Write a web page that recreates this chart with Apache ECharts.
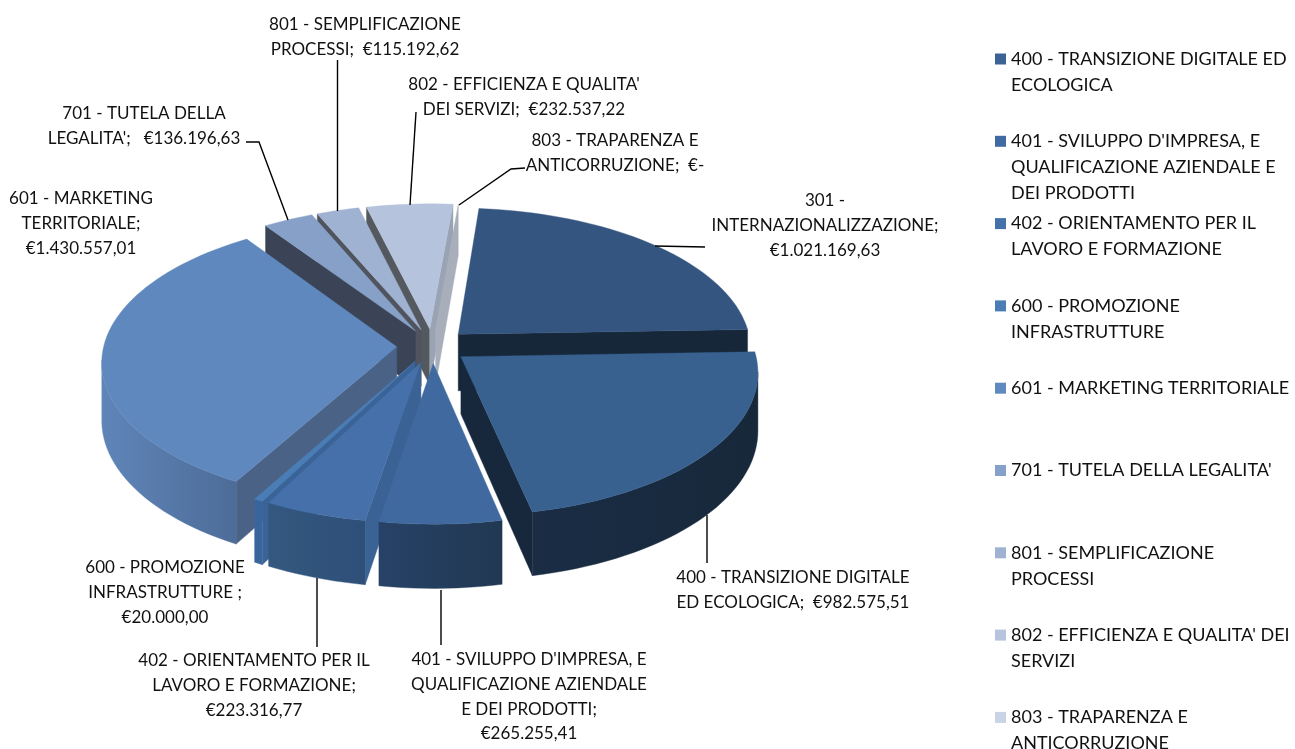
<!DOCTYPE html>
<html>
<head>
<meta charset="utf-8">
<style>
  html, body { margin: 0; padding: 0; background: #fff; overflow: hidden; }
  #chart { width: 1295px; height: 749px; }
</style>
<script src="https://cdn.jsdelivr.net/npm/echarts@6/dist/echarts.min.js"></script>
</head>
<body>
<div id="chart"></div>
<script>
const categories = [
  "301 - INTERNAZIONALIZZAZIONE",
  "400 - TRANSIZIONE DIGITALE ED ECOLOGICA",
  "401 - SVILUPPO D'IMPRESA, E QUALIFICAZIONE AZIENDALE E DEI PRODOTTI",
  "402 - ORIENTAMENTO PER IL LAVORO E FORMAZIONE",
  "600 - PROMOZIONE INFRASTRUTTURE",
  "601 - MARKETING TERRITORIALE",
  "701 - TUTELA DELLA LEGALITA'",
  "801 - SEMPLIFICAZIONE PROCESSI",
  "802 - EFFICIENZA E QUALITA' DEI SERVIZI",
  "803 - TRAPARENZA E ANTICORRUZIONE"
];
const values = [
  1021169.63, 982575.51, 265255.41, 223316.77, 20000.0,
  1430557.01, 136196.63, 115192.62, 232537.22, 0
];
const labelLines = [
  ["301 -", "INTERNAZIONALIZZAZIONE;", "€1.021.169,63"],
  ["400 - TRANSIZIONE DIGITALE", "ED ECOLOGICA;  €982.575,51"],
  ["401 - SVILUPPO D'IMPRESA, E", "QUALIFICAZIONE AZIENDALE", "E DEI PRODOTTI;", "€265.255,41"],
  ["402 - ORIENTAMENTO PER IL", "LAVORO E FORMAZIONE;", "€223.316,77"],
  ["600 - PROMOZIONE", "INFRASTRUTTURE ;", "€20.000,00"],
  ["601 - MARKETING", "TERRITORIALE;", "€1.430.557,01"],
  ["701 - TUTELA DELLA", "LEGALITA';   €136.196,63"],
  ["801 - SEMPLIFICAZIONE", "PROCESSI;  €115.192,62"],
  ["802 - EFFICIENZA E QUALITA'", "DEI SERVIZI;  €232.537,22"],
  ["803 - TRAPARENZA E", "ANTICORRUZIONE;  €-"]
];
const legendLines = [
  ["400 - TRANSIZIONE DIGITALE ED", "ECOLOGICA"],
  ["401 - SVILUPPO D'IMPRESA, E", "QUALIFICAZIONE AZIENDALE E", "DEI PRODOTTI"],
  ["402 - ORIENTAMENTO PER IL", "LAVORO E FORMAZIONE"],
  ["600 - PROMOZIONE", "INFRASTRUTTURE"],
  ["601 - MARKETING TERRITORIALE"],
  ["701 - TUTELA DELLA LEGALITA'"],
  ["801 - SEMPLIFICAZIONE", "PROCESSI"],
  ["802 - EFFICIENZA E QUALITA' DEI", "SERVIZI"],
  ["803 - TRAPARENZA E", "ANTICORRUZIONE"]
];

// colori
const topColors = ["#33557f", "#38618f", "#40699f", "#4570a9", "#4a7db6", "#5f88be", "#86a0c8", "#9fb2d2", "#b5c3dc", "#c9d1e0"];
const startWallColors = ["#16273a", "#17283c", "#3a6295", "#3a6295", "#3a6398", "#4a6286", "#3a4456", "#50545f", "#54585f", "#a8afbb"];
const endWallColors = ["#16273a", "#17283c", "#284468", "#2e5078", "#3a6398", "#4a6286", "#3a4456", "#7f8ca3", "#99a3b4", "#a8afbb"];
const rimColors = [
  ["#16273a", "#16273a"], ["#1a2d45", "#17283a"], ["#274267", "#213852"], ["#34587f", "#2e4f78"],
  ["#3a659c", "#3a659c"], ["#5f85b8", "#4d6c98"], ["#3a4456", "#3a4456"], ["#50545f", "#50545f"],
  ["#54585f", "#54585f"], ["#a8afbb", "#a8afbb"]
];
const legendColors = ["#3b6396", "#3f6ba2", "#4571ab", "#4a7db5", "#608abf", "#85a0cb", "#9fb2d4", "#b6c4de", "#c9d3e6"];

// posizione etichette: centro x, centro y prima riga
const labelPos = [[825, 201], [793, 578], [529, 660], [254, 661], [165, 568], [81, 199], [144, 114], [365, 25], [524, 85], [615, 141]];
const leaderLines = [
  [[655, 246], [705, 247]],
  [[707, 515], [707, 563]],
  [[441, 590], [441, 645]],
  [[317, 578], [317, 647]],
  null,
  null,
  [[246, 142], [259, 142], [288, 220]],
  [[337.5, 60], [337.5, 211]],
  [[416, 112], [410, 205]],
  [[525, 168], [511, 169], [459, 205]]
];

const FONT_FAMILY = "Lato";
const cx = 432.5, cy = 346, Rx = 293, Ry = 141, H = 57;
const PERSP = 0.1, EXPLODE = 0.122, START_ANGLE = 5;

const total = values.reduce((a, b) => a + b, 0);
const angles = [];
let acc = START_ANGLE;
values.forEach((v) => {
  const sweep = (v / total) * 360;
  angles.push([acc, acc + sweep]);
  acc += sweep;
});

function project(X, Y, Z) {
  const s = 1 / (1 + PERSP * Y);
  return [cx + Rx * X * s, cy - Ry * Y * s + H * Z * s];
}

function signedArea(pts) {
  let sum = 0;
  pts.forEach((p, i) => {
    const q = pts[(i + 1) % pts.length];
    sum += p[0] * q[1] - q[0] * p[1];
  });
  return sum;
}

function poly(points, fill) {
  return {
    type: "polygon",
    shape: { points: points },
    style: { fill: fill, stroke: fill, lineWidth: 0.4 }
  };
}

function renderSlice(idx, value) {
  const a0 = angles[idx][0];
  const a1 = a0 + (value / total) * 360;
  const mid = (((a0 + a1) / 2) * Math.PI) / 180;
  const ox = EXPLODE * Math.sin(mid);
  const oy = EXPLODE * Math.cos(mid);
  const at = (deg, z) => {
    const t = (deg * Math.PI) / 180;
    return project(ox + Math.sin(t), oy + Math.cos(t), z);
  };
  const apexTop = project(ox, oy, 0);
  const apexBottom = project(ox, oy, 1);
  const children = [];

  const startWall = [apexTop, at(a0, 0), at(a0, 1), apexBottom];
  const endWall = [apexTop, at(a1, 0), at(a1, 1), apexBottom];
  if (signedArea(startWall) < 0) children.push(poly(startWall, startWallColors[idx]));
  if (signedArea(endWall) > 0) children.push(poly(endWall, endWallColors[idx]));

  // parete esterna: solo la parte verso l'osservatore
  const steps = Math.max(1, Math.ceil((a1 - a0) / 2));
  const rimTop = [];
  const rimBottom = [];
  for (let i = 0; i < steps; i++) {
    const d0 = a0 + ((a1 - a0) * i) / steps;
    const d1 = a0 + ((a1 - a0) * (i + 1)) / steps;
    const seg = [at(d0, 0), at(d1, 0), at(d1, 1), at(d0, 1)];
    if (signedArea(seg) < 0) {
      if (!rimTop.length) {
        rimTop.push(seg[0]);
        rimBottom.push(seg[3]);
      }
      rimTop.push(seg[1]);
      rimBottom.push(seg[2]);
    }
  }
  if (rimTop.length) {
    children.push(poly(rimTop.concat(rimBottom.reverse()), {
      type: "linear", x: 0, y: 0, x2: 1, y2: 0,
      colorStops: [
        { offset: 0, color: rimColors[idx][0] },
        { offset: 1, color: rimColors[idx][1] }
      ]
    }));
  }

  if (a1 > a0) {
    const face = [apexTop];
    for (let i = 0; i <= steps; i++) face.push(at(a0 + ((a1 - a0) * i) / steps, 0));
    children.push(poly(face, topColors[idx]));
  }
  return { type: "group", children: children };
}

// ordine di disegno: dal fondo verso l'osservatore
const depthRank = values
  .map((v, i) => i)
  .sort((a, b) => {
    const ma = ((angles[a][0] + angles[a][1]) * Math.PI) / 360;
    const mb = ((angles[b][0] + angles[b][1]) * Math.PI) / 360;
    return Math.cos(mb) - Math.cos(ma);
  });

const series = categories.map((name, i) => ({
  type: "custom",
  name: name,
  coordinateSystem: "none",
  z: 2 + depthRank.indexOf(i),
  silent: true,
  itemStyle: { color: i > 0 ? legendColors[i - 1] : topColors[0] },
  data: [[values[i]]],
  renderItem: (params, api) => renderSlice(i, api.value(0))
}));

// la legenda centra il simbolo sul testo: righe vuote sopra per tenerlo sulla prima riga
const LEGEND_LINE = 26;
const legends = legendLines.map((lines, i) => {
  const extra = lines.length - 1;
  return {
    data: [categories[i + 1]],
    orient: "vertical",
    left: 995,
    top: 59 + 82.3 * i - 13 - LEGEND_LINE * extra,
    padding: 0,
    icon: "rect",
    itemWidth: 11,
    itemHeight: 11,
    itemGap: 0,
    selectedMode: false,
    formatter: () => "\n".repeat(extra) + lines.join("\n"),
    textStyle: {
      fontFamily: FONT_FAMILY,
      fontSize: 18,
      lineHeight: LEGEND_LINE,
      color: "#111"
    }
  };
});

const graphics = [];
labelLines.forEach((lines, i) => {
  graphics.push({
    type: "text",
    z: 50,
    style: {
      text: lines.join("\n"),
      x: labelPos[i][0],
      y: labelPos[i][1] - 12.3,
      align: "center",
      verticalAlign: "top",
      fontFamily: FONT_FAMILY,
      fontSize: 17,
      lineHeight: 24.6,
      fill: "#111"
    }
  });
  if (leaderLines[i]) {
    graphics.push({
      type: "polyline",
      z: 50,
      shape: { points: leaderLines[i] },
      style: { stroke: "#000", lineWidth: 1.4, fill: "none" }
    });
  }
});

const chart = echarts.init(document.getElementById("chart"));
chart.setOption({
  backgroundColor: "#fff",
  animation: false,
  legend: legends,
  series: series,
  graphic: graphics
});
</script>
</body>
</html>
